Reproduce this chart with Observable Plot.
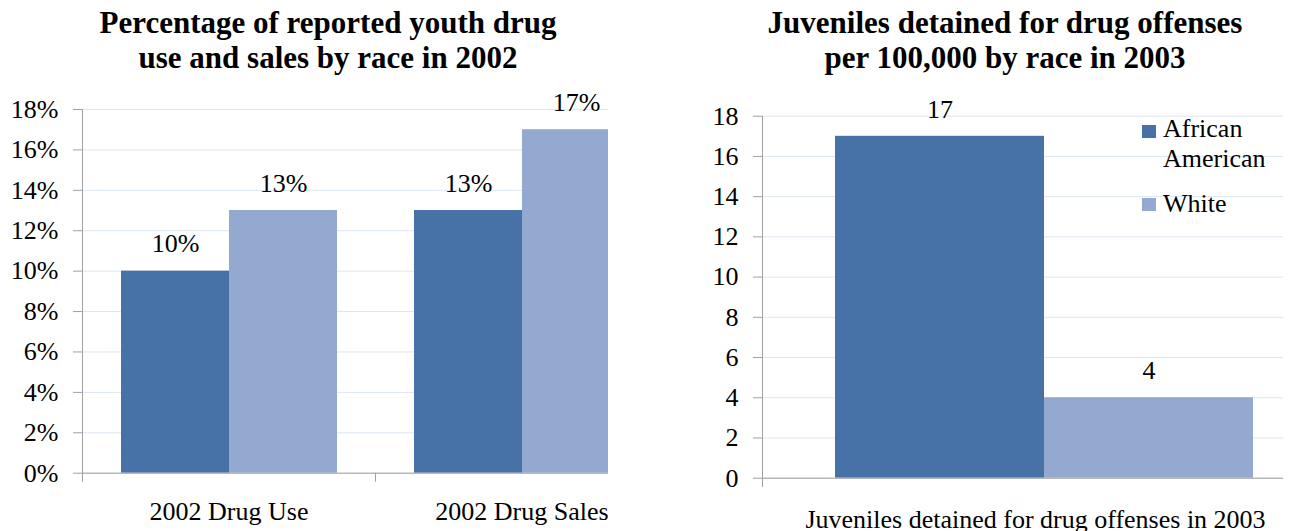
<!DOCTYPE html>
<html><head><meta charset="utf-8">
<script src="https://cdn.jsdelivr.net/npm/d3@7"></script>
<script src="https://cdn.jsdelivr.net/npm/@observablehq/plot@0.6"></script>
<style>
body{margin:0;background:#fff;width:1290px;height:531px;overflow:hidden;position:relative;font-family:"Liberation Serif","DejaVu Serif",serif;color:#000;}
.title{position:absolute;font-weight:bold;font-size:31px;line-height:35px;text-align:center;white-space:nowrap;transform:translateX(-50%);}
.panel{position:absolute;top:0;height:531px;overflow:hidden;}
.panel svg{max-width:none !important;width:700px !important;height:531px !important;font-family:"Liberation Serif",serif !important;}
.panel svg text{font-family:"Liberation Serif",serif !important;}
.leg{position:absolute;font-size:26px;line-height:30px;white-space:nowrap;}
.sw{position:absolute;width:14px;height:13px;}
</style></head><body>
<script>
// ---- data ----
const categories1 = ["2002 Drug Use", "2002 Drug Sales"];
const races = ["African American", "White"];
const africanAmerican1 = [0.10, 0.13];
const white1 = [0.13, 0.17];
const yTicks1 = [0, 0.02, 0.04, 0.06, 0.08, 0.10, 0.12, 0.14, 0.16, 0.18];
const category2 = ["Juveniles detained for drug offenses in 2003"];
const africanAmerican2 = [17];
const white2 = [4];
const yTicks2 = [0, 2, 4, 6, 8, 10, 12, 14, 16, 18];
const titles1 = ["Percentage of reported youth drug", "use and sales by race in 2002"];
const titles2 = ["Juveniles detained for drug offenses", "per 100,000 by race in 2003"];
const colors = ["#4672a8", "#94a9d0"];

const pct = d3.format(".0%");
const axisColor = "#a0a0a0";
const gridColor = "#dce6f2";
const ff = "Liberation Serif";
const font = {fontFamily: ff, fontSize: "26px", color: "#000", background: "transparent", overflow: "visible", maxWidth: "none"};

function build(cats, aa, wh) {
  return cats.flatMap((c, i) => [
    {cat: c, race: races[0], value: aa[i]},
    {cat: c, race: races[1], value: wh[i]}
  ]);
}
const data1 = build(categories1, africanAmerican1, white1);
const data2 = build(category2, africanAmerican2, white2);

function chart({data, cats, ticks, fmt, yMax, mL, mR, mT, mB, padOuter, labelPad, labelDx}) {
  const H = 531, W = 700;
  const plotH = H - mT - mB;
  return Plot.plot({
    width: W, height: H, marginLeft: mL, marginRight: mR, marginTop: mT, marginBottom: mB,
    style: font,
    fx: {domain: cats, padding: 0, label: null},
    x: {domain: races, paddingInner: 0, paddingOuter: padOuter, axis: null},
    y: {domain: [0, yMax], label: null},
    color: {domain: races, range: colors},
    marks: [
      Plot.gridY(ticks, {stroke: gridColor, strokeOpacity: 1}),
      Plot.barY(data, {fx: "cat", x: "race", y: "value", fill: "race"}),
      Plot.text(data, {fx: "cat", x: "race", y: "value", text: d => fmt(d.value), dy: -27, fill: "#000", fontFamily: ff, fontSize: 26}),
      Plot.ruleY([0], {stroke: axisColor}),
      Plot.frame({anchor: "left", facetAnchor: "left", stroke: axisColor, insetBottom: -8}),
      Plot.frame({anchor: "left", stroke: axisColor, insetTop: plotH, insetBottom: -8}),
      Plot.axisY(ticks, {tickFormat: fmt, tickSize: 9, tickPadding: 15, stroke: axisColor, fill: "#000", label: null, fontFamily: ff, fontSize: 26, fontVariant: "normal"}),
      Plot.axisFx({anchor: "bottom", tickSize: 0, tickPadding: labelPad, dx: labelDx, fill: "#000", label: null, fontFamily: ff, fontSize: 26})
    ]
  });
}

const p1 = document.createElement("div");
p1.className = "panel"; p1.style.left = "0px"; p1.style.width = "608px";
p1.appendChild(chart({data: data1, cats: categories1, ticks: yTicks1, fmt: pct, yMax: 0.18,
  mL: 82, mR: 32, mT: 109, mB: 58.3, padOuter: 0.356, labelPad: 28.8, labelDx: 0}));
document.body.appendChild(p1);

const p2 = document.createElement("div");
p2.className = "panel"; p2.style.left = "640px"; p2.style.width = "643px";
p2.appendChild(chart({data: data2, cats: category2, ticks: yTicks2, fmt: d3.format("d"), yMax: 18,
  mL: 122, mR: 14, mT: 115.7, mB: 53.3, padOuter: 0.343, labelPad: 31.8, labelDx: -9}));
document.body.appendChild(p2);

function addTitle(lines, cx) {
  const t = document.createElement("div");
  t.className = "title";
  t.style.left = cx + "px"; t.style.top = "5px";
  t.innerHTML = lines.join("<br>");
  document.body.appendChild(t);
}
addTitle(titles1, 328);
addTitle(titles2, 1005);

// legend
const legendItems = [
  {label: "African<br>American", color: colors[0], sqTop: 125, textTop: 114},
  {label: races[1], color: colors[1], sqTop: 198, textTop: 189}
];
legendItems.forEach(it => {
  const s = document.createElement("div");
  s.className = "sw"; s.style.left = "1142px"; s.style.top = it.sqTop + "px"; s.style.background = it.color;
  document.body.appendChild(s);
  const l = document.createElement("div");
  l.className = "leg"; l.style.left = "1163px"; l.style.top = it.textTop + "px"; l.innerHTML = it.label;
  document.body.appendChild(l);
});
</script>
</body></html>
